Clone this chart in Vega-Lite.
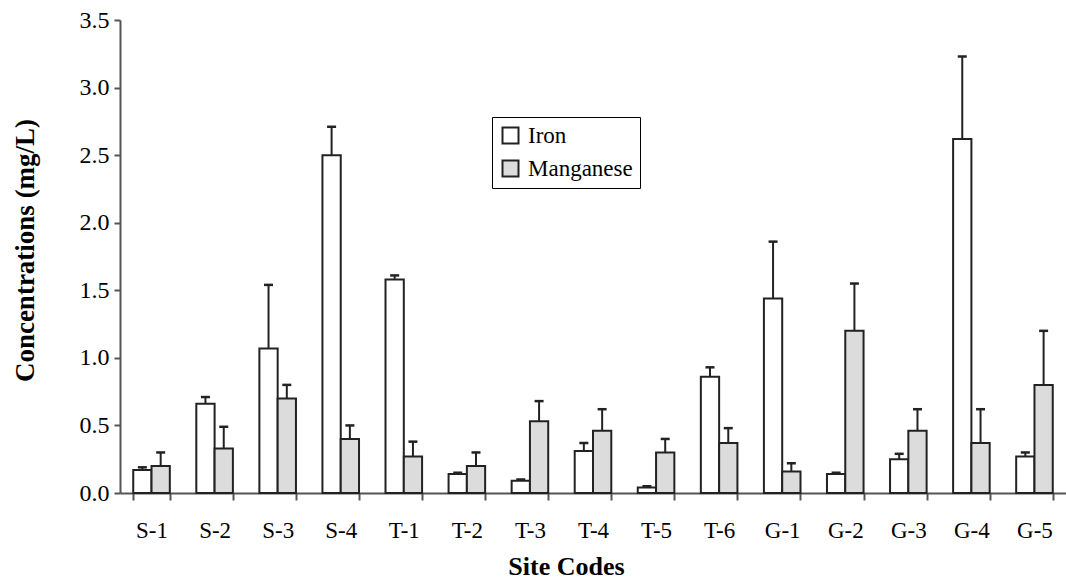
{
  "$schema": "https://vega.github.io/schema/vega-lite/v6.json",
  "autosize": {"type": "none"},
  "padding": {"left": 120, "top": 20, "right": 0, "bottom": 88},
  "width": 946,
  "height": 473,
  "background": "white",
  "config": {
    "view": {"stroke": null},
    "font": "Liberation Serif, serif",
    "axis": {"labelFont": "Liberation Serif, serif", "titleFont": "Liberation Serif, serif"},
    "legend": {"labelFont": "Liberation Serif, serif", "titleFont": "Liberation Serif, serif"}
  },
  "data": {
    "values": [
      {"site": "S-1", "element": "Iron", "value": 0.17, "upper": 0.19},
      {"site": "S-1", "element": "Manganese", "value": 0.20, "upper": 0.30},
      {"site": "S-2", "element": "Iron", "value": 0.66, "upper": 0.71},
      {"site": "S-2", "element": "Manganese", "value": 0.33, "upper": 0.49},
      {"site": "S-3", "element": "Iron", "value": 1.07, "upper": 1.54},
      {"site": "S-3", "element": "Manganese", "value": 0.70, "upper": 0.80},
      {"site": "S-4", "element": "Iron", "value": 2.50, "upper": 2.71},
      {"site": "S-4", "element": "Manganese", "value": 0.40, "upper": 0.50},
      {"site": "T-1", "element": "Iron", "value": 1.58, "upper": 1.61},
      {"site": "T-1", "element": "Manganese", "value": 0.27, "upper": 0.38},
      {"site": "T-2", "element": "Iron", "value": 0.14, "upper": 0.15},
      {"site": "T-2", "element": "Manganese", "value": 0.20, "upper": 0.30},
      {"site": "T-3", "element": "Iron", "value": 0.09, "upper": 0.10},
      {"site": "T-3", "element": "Manganese", "value": 0.53, "upper": 0.68},
      {"site": "T-4", "element": "Iron", "value": 0.31, "upper": 0.37},
      {"site": "T-4", "element": "Manganese", "value": 0.46, "upper": 0.62},
      {"site": "T-5", "element": "Iron", "value": 0.04, "upper": 0.05},
      {"site": "T-5", "element": "Manganese", "value": 0.30, "upper": 0.40},
      {"site": "T-6", "element": "Iron", "value": 0.86, "upper": 0.93},
      {"site": "T-6", "element": "Manganese", "value": 0.37, "upper": 0.48},
      {"site": "G-1", "element": "Iron", "value": 1.44, "upper": 1.86},
      {"site": "G-1", "element": "Manganese", "value": 0.16, "upper": 0.22},
      {"site": "G-2", "element": "Iron", "value": 0.14, "upper": 0.15},
      {"site": "G-2", "element": "Manganese", "value": 1.20, "upper": 1.55},
      {"site": "G-3", "element": "Iron", "value": 0.25, "upper": 0.29},
      {"site": "G-3", "element": "Manganese", "value": 0.46, "upper": 0.62},
      {"site": "G-4", "element": "Iron", "value": 2.62, "upper": 3.23},
      {"site": "G-4", "element": "Manganese", "value": 0.37, "upper": 0.62},
      {"site": "G-5", "element": "Iron", "value": 0.27, "upper": 0.30},
      {"site": "G-5", "element": "Manganese", "value": 0.80, "upper": 1.20}
    ]
  },
  "encoding": {
    "x": {
      "field": "site",
      "type": "nominal",
      "sort": null,
      "scale": {"paddingInner": 0.42, "paddingOuter": 0.21},
      "axis": {
        "labelAngle": 0,
        "tickBand": "extent",
        "tickSize": 7,
        "tickWidth": 2,
        "tickColor": "#555",
        "domainColor": "#555",
        "domainWidth": 2,
        "labelPadding": 19,
        "labelFont": "Liberation Serif, serif",
        "labelFontSize": 23,
        "labelColor": "black",
        "title": "Site Codes",
        "titleFont": "Liberation Serif, serif",
        "titleFontSize": 26,
        "titleFontWeight": "bold",
        "titleColor": "black",
        "titleX": 446,
        "titleY": 81,
        "titleBaseline": "alphabetic"
      }
    },
    "xOffset": {"field": "element", "type": "nominal"}
  },
  "layer": [
    {
      "mark": {"type": "bar", "stroke": "#222", "strokeWidth": 2},
      "encoding": {
        "y": {
          "field": "value",
          "type": "quantitative",
          "scale": {"domain": [0, 3.5]},
          "axis": {
            "values": [0, 0.5, 1, 1.5, 2, 2.5, 3, 3.5],
            "format": ".1f",
            "grid": false,
            "tickSize": 6,
            "tickWidth": 2,
            "tickColor": "#555",
            "domainColor": "#555",
            "domainWidth": 2,
            "labelPadding": 5,
            "labelFont": "Liberation Serif, serif",
            "labelFontSize": 24,
            "labelColor": "black",
            "title": "Concentrations (mg/L)",
            "titleFont": "Liberation Serif, serif",
            "titleFontSize": 27,
            "titleFontWeight": "bold",
            "titleColor": "black",
            "titleAngle": 270,
            "titleAlign": "center",
            "titleBaseline": "alphabetic",
            "titleX": -87,
            "titleY": 230
          }
        },
        "fill": {
          "field": "element",
          "type": "nominal",
          "scale": {"domain": ["Iron", "Manganese"], "range": ["white", "#dcdcdc"]},
          "legend": {
            "orient": "none",
            "legendX": 372,
            "legendY": 97,
            "title": null,
            "strokeColor": "black",
            "fillColor": "white",
            "padding": 7,
            "labelFont": "Liberation Serif, serif",
            "labelFontSize": 23,
            "labelColor": "black",
            "labelOffset": 6,
            "symbolType": "square",
            "symbolSize": 256,
            "symbolStrokeColor": "#222",
            "symbolStrokeWidth": 2,
            "rowPadding": 8
          }
        }
      }
    },
    {
      "mark": {"type": "rule", "stroke": "#222", "strokeWidth": 2},
      "encoding": {
        "y": {"field": "value", "type": "quantitative"},
        "y2": {"field": "upper"}
      }
    },
    {
      "mark": {"type": "tick", "color": "#222", "thickness": 2.5, "size": 9, "opacity": 1},
      "encoding": {
        "y": {"field": "upper", "type": "quantitative"}
      }
    }
  ]
}
